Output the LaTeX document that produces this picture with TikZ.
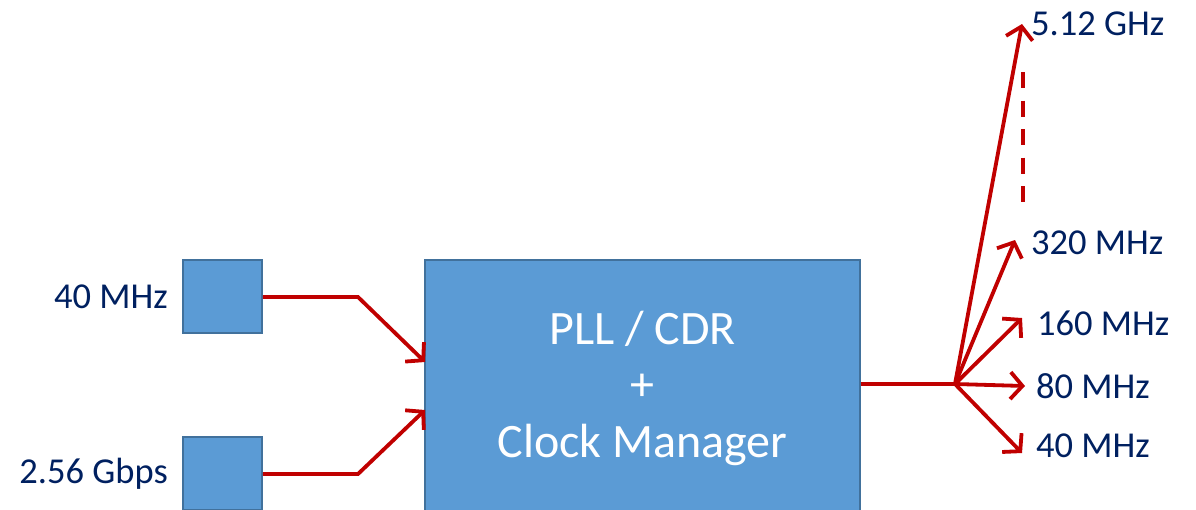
\documentclass[tikz,border=0pt]{standalone}
\usepackage{fontspec}
\setmainfont{Carlito}
\usetikzlibrary{arrows.meta,calc}
\definecolor{boxfill}{HTML}{5B9BD5}
\definecolor{boxedge}{HTML}{41719C}
\definecolor{linered}{HTML}{C00000}
\definecolor{labnavy}{HTML}{002060}
\tikzset{
  blockbox/.style={draw=boxedge, line width=1.5pt, fill=boxfill, inner sep=0pt},
  redline/.style={draw=linered, line width=3.8pt, line join=miter},
  redarrow/.style={redline, -{Straight Barb[length=12pt,width=27pt,line width=3.8pt]}},
  lab/.style={text=labnavy, font=\fontsize{36.5}{42}\selectfont, inner sep=0pt},
}
\begin{document}
\begin{tikzpicture}[x=1pt,y=-1pt]
\useasboundingbox (0,0) rectangle (1196,509);
\clip (0,0) rectangle (1196,509);
% boxes
\node[blockbox, minimum width=79pt, minimum height=73pt] (s1) at (222.5,296.5) {};
\node[blockbox, minimum width=79pt, minimum height=73pt] (s2) at (222.5,473.5) {};
\node[blockbox, minimum width=435pt, minimum height=256pt, text=white, align=center,
      font=\fontsize{48}{56.5}\selectfont] (pll) at (642.5,388) {PLL / CDR\\+\\Clock Manager};
% input labels
\node[lab, anchor=east] (l40) at (168,297) {40 MHz};
\node[lab, anchor=east] (l256) at (168,474) {2.56 Gbps};
% input connectors
\coordinate (b1) at (358,297);
\coordinate (b2) at (358,474);
\coordinate (t1) at (425,362);
\coordinate (t2) at (425,410);
\draw[redarrow] (s1.east |- b1) -- (b1) -- (t1);
\draw[redarrow] (s2.east |- b2) -- (b2) -- (t2);
% output
\coordinate (hub) at (955,384);
\draw[redline] (pll.east |- hub) -- (hub);
\coordinate (o1) at (1022,24);
\coordinate (o2) at (1015,240);
\coordinate (o3) at (1022,318);
\coordinate (o4) at (1025,386);
\coordinate (o5) at (1022,453);
\draw[redarrow] (hub) -- (o1);
\draw[redarrow] (hub) -- (o2);
\draw[redarrow] (hub) -- (o3);
\draw[redarrow] (hub) -- (o4);
\draw[redarrow] (hub) -- (o5);
\coordinate (d1) at (1023,72);
\coordinate (d2) at (1023,205);
\draw[redline, dash pattern=on 16pt off 12.5pt] (d1) -- (d2);
% output labels
\node[lab, anchor=west] (f1) at (1031,24) {5.12 GHz};
\node[lab, anchor=west] (f2) at (1031,243) {320 MHz};
\node[lab, anchor=west] (f3) at (1037,323) {160 MHz};
\node[lab, anchor=west] (f4) at (1036,386) {80 MHz};
\node[lab, anchor=west] (f5) at (1036,446) {40 MHz};
\end{tikzpicture}
\end{document}
